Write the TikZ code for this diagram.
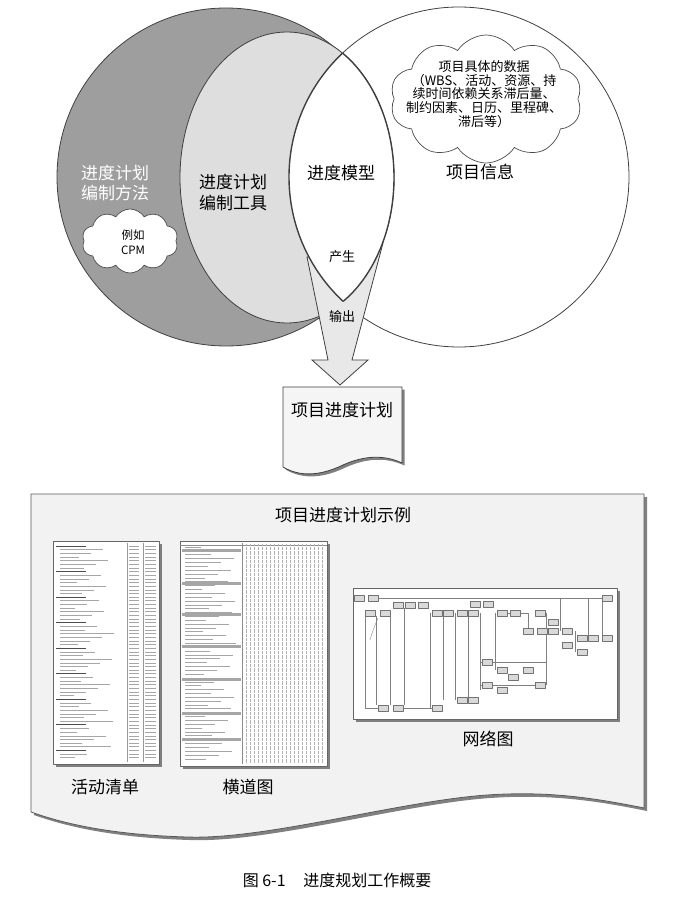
\documentclass[tikz,border=0pt]{standalone}
\usepackage{fontspec}
\setmainfont{Noto Sans CJK SC}
\usetikzlibrary{shapes.symbols}

\tikzset{
  lab/.style={font=\fontsize{17}{20.5}\selectfont,align=center,inner sep=0pt},
  wlab/.style={lab,text=white},
  smalltext/.style={font=\fontsize{13}{13.75}\selectfont,align=center,inner sep=0pt},
  tinytext/.style={font=\fontsize{11.5}{15}\selectfont,align=center,inner sep=0pt},
  captext/.style={font=\fontsize{16}{18}\selectfont,inner sep=0pt},
  cloudbox/.style={cloud,cloud puffs=10,cloud puff arc=115,draw=black!70,fill=white,inner sep=0pt,line width=0.7pt},
  outline/.style={draw=black!75,line width=0.8pt},
  shadowfill/.style={fill=black!50,draw=none},
  rowline/.style={black!35,line width=0.6pt},
  netline/.style={black!50,line width=0.35pt}
}

\begin{document}
\begin{tikzpicture}[x=1pt,y=-1pt,line join=round]
\fill[white] (0,0) rectangle (673,904);
\useasboundingbox (0,0) rectangle (673,904);

\filldraw[outline,fill=black!38] (226,177) circle (169pt);
\filldraw[outline,fill=white] (459,177) circle (170pt);
\filldraw[outline,fill=black!13] (287,177.5) ellipse [x radius=107pt,y radius=145.5pt];

\coordinate (a1) at (307,257);
\coordinate (a2) at (328,360);
\coordinate (a3) at (312,360);
\coordinate (a4) at (340,385);
\coordinate (a5) at (368,360);
\coordinate (a6) at (352,360);
\coordinate (a7) at (383,243);
\filldraw[outline,fill=black!9,line join=miter] (a1) -- (a2) -- (a3) -- (a4) -- (a5) -- (a6) -- (a7) -- cycle;

\begin{scope}
\clip (459,177) circle (170pt);
\fill[white] (287,177.5) ellipse [x radius=107pt,y radius=145.5pt];
\draw[outline,line width=1.4pt] (287,177.5) ellipse [x radius=107pt,y radius=145.5pt];
\end{scope}
\begin{scope}
\clip (287,177.5) ellipse [x radius=107pt,y radius=145.5pt];
\draw[outline,line width=1.4pt] (459,177) circle (170pt);
\end{scope}

\node[wlab] (fangfa) at (115,183) {进度计划\\编制方法};
\node[lab] (gongju) at (233,192.5) {进度计划\\编制工具};
\node[lab] (moxing) at (341,173) {进度模型};
\node[lab] (xinxi) at (480,172) {项目信息};
\node[cloudbox,minimum width=96pt,minimum height=64pt] (cpm) at (130,241) {};
\node[tinytext] (cpmtxt) at (133,242.5) {例如\\CPM};
\node[cloudbox,minimum width=192pt,minimum height=128pt] (data) at (486,99) {};
\node[smalltext] (datatxt) at (484,94) {项目具体的数据\\（WBS、活动、资源、持\\续时间依赖关系滞后量、\\制约因素、日历、里程碑、\\滞后等）};
\node[smalltext] (chansheng) at (342,257) {产生};
\node[smalltext] (shuchu) at (342,317) {输出};

\filldraw[shadowfill,shift={(2.5,2.5)}] (283,387) -- (402,387) -- (402,463) .. controls (385,455) and (365,455) .. (343,465) .. controls (320,476) and (300,477) .. (283,467) -- cycle;
\filldraw[outline,fill=black!4] (283,387) -- (402,387) -- (402,463) .. controls (385,455) and (365,455) .. (343,465) .. controls (320,476) and (300,477) .. (283,467) -- cycle;
\node[lab] (plan) at (342,410) {项目进度计划};

\filldraw[shadowfill,shift={(3,3)}] (31,494) -- (644,494) -- (644,808) .. controls (590,797) and (545,791) .. (487,795) .. controls (400,801) and (265,840) .. (187,837) .. controls (120,835) and (70,826) .. (31,812) -- cycle;
\filldraw[fill=black!5,draw=black!65,line width=0.8pt] (31,494) -- (644,494) -- (644,808) .. controls (590,797) and (545,791) .. (487,795) .. controls (400,801) and (265,840) .. (187,837) .. controls (120,835) and (70,826) .. (31,812) -- cycle;
\node[lab] (shili) at (343,515) {项目进度计划示例};

\fill[shadowfill] (56,544) rectangle (162,767);
\filldraw[fill=white,draw=black!60,line width=0.5pt] (53,541) rectangle (159,764);
\draw[black!40,line width=0.3pt] (127,543) -- (127,762) (143,543) -- (143,762);
\foreach \i in {0,...,58}{
  \pgfmathsetmacro\yy{546+3.65*\i}
  \pgfmathtruncatemacro\hh{mod(\i,7)}
  \pgfmathsetmacro\ll{14+mod(\i*29,41)}
  \ifnum\hh=0
    \draw[black!70,line width=0.9pt] (56,\yy) -- ++(30,0);
  \else
    \draw[rowline] (60,\yy) -- ++(\ll,0);
  \fi
  \draw[rowline] (129,\yy) -- ++(10,0) (145,\yy) -- ++(11,0);
}

\fill[shadowfill] (183,544) rectangle (330,769);
\filldraw[fill=white,draw=black!60,line width=0.5pt] (180,541) rectangle (327,766);
\foreach \yy in {549,582,613,645,678,712,738}
  \fill[black!35] (182,\yy) rectangle (241,\yy+3);
\foreach \i in {0,...,55}{
  \pgfmathsetmacro\yy{547+3.85*\i}
  \pgfmathsetmacro\ll{16+mod(\i*23,36)}
  \draw[rowline,line width=0.5pt] (185,\yy) -- ++(\ll,0);
}
\draw[black!45,line width=0.3pt] (242,543) -- (242,764) (180,545) -- (327,545);
\foreach \x in {246,250,...,324}
  \draw[black!30,line width=0.3pt,densely dotted] (\x,544) -- (\x,763);

\fill[shadowfill] (356,591) rectangle (620,722);
\filldraw[fill=white,draw=black!60,line width=0.5pt] (353,588) rectangle (617,719);
\draw[netline] (365,613) -- (365,708) -- (378,708);
\draw[netline] (378,598) -- (602,598) -- (602,638);
\draw[netline] (376,616) -- (376,705) (390,616) -- (390,705) (404,608) -- (404,705);
\draw[netline] (403,708) -- (432,708) (430,613) -- (430,708) (443,613) -- (443,700);
\draw[netline] (455,613) -- (455,700) (468,613) -- (468,700) (480,613) -- (480,690);
\draw[netline] (495,613) -- (495,670) (508,613) -- (528,613) -- (528,631);
\draw[netline] (546,613) -- (546,685) (560,598) -- (560,631) (575,631) -- (575,652);
\draw[netline] (588,598) -- (588,638) (480,662) -- (546,662) (480,685) -- (540,685);
\draw[netline] (370,640) .. controls (373,630) .. (378,618);
\foreach \p in {(359,598),(373,598),(398,605),(410,605),(423,605),(370,613),(385,613),(437,613),(448,613),(462,613),(473,613),(475,604),(488,604),(502,613),(515,613),(540,613),(528,631),(542,631),(553,622),(553,631),(567,631),(567,645),(582,638),(582,652),(593,638),(607,638),(607,598),(487,662),(502,670),(513,677),(528,670),(487,685),(502,690),(540,685),(383,708),(398,708),(437,708),(462,700),(473,700)}
  \filldraw[fill=black!15,draw=black!55,line width=0.3pt] \p +(-5,-3) rectangle +(5,3);

\node[lab] (huodong) at (105,787) {活动清单};
\node[lab] (hengdao) at (248,787) {横道图};
\node[lab] (wangluo) at (488,739) {网络图};

\node[captext] (tu) at (337,880) {图 6-1\hspace{1.1em}进度规划工作概要};
\end{tikzpicture}
\end{document}
